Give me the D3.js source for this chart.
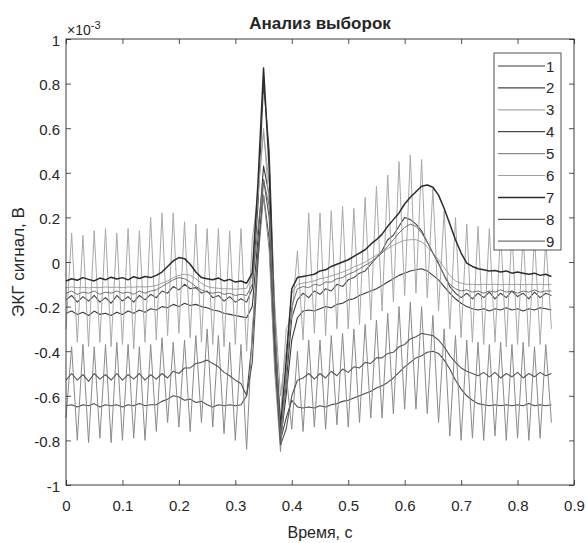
<!DOCTYPE html>
<html>
<head>
<meta charset="utf-8">
<script src="https://cdn.jsdelivr.net/npm/d3@7"></script>
<style>
  body { margin: 0; background: #fff; }
  svg text { font-family: "Liberation Sans", Arial, Helvetica, sans-serif; fill: #262626; }
</style>
</head>
<body>
<svg id="chart" width="587" height="543"></svg>
<script>
// ECG recordings sampled every 10 ms, values in units of 1e-3 V
const SAMPLE_STEP = 0.01;

const seriesLabels = ["1", "2", "3", "4", "5", "6", "7", "8", "9"];

const sig1 = [-0.23,-0.22,-0.235,-0.225,-0.24,-0.22,-0.235,-0.23,-0.24,-0.225,
  -0.235,-0.22,-0.23,-0.215,-0.225,-0.21,-0.215,-0.2,-0.205,-0.19,
  -0.2,-0.185,-0.195,-0.19,-0.2,-0.205,-0.215,-0.22,-0.23,-0.235,
  -0.24,-0.245,-0.25,-0.2,0.1,0.43,0.3,-0.3,-0.8,-0.6,
  -0.35,-0.25,-0.22,-0.215,-0.22,-0.21,-0.2,-0.205,-0.19,-0.185,
  -0.17,-0.165,-0.15,-0.14,-0.13,-0.12,-0.105,-0.09,-0.075,-0.06,
  -0.05,-0.04,-0.035,-0.03,-0.04,-0.06,-0.08,-0.11,-0.14,-0.165,
  -0.185,-0.2,-0.21,-0.215,-0.21,-0.22,-0.21,-0.215,-0.205,-0.215,
  -0.21,-0.22,-0.21,-0.215,-0.205,-0.21,-0.215];

const sig2 = [-0.17,-0.15,-0.18,-0.155,-0.175,-0.15,-0.18,-0.16,-0.185,-0.15,
  -0.175,-0.155,-0.18,-0.15,-0.17,-0.145,-0.16,-0.13,-0.14,-0.11,
  -0.125,-0.1,-0.12,-0.115,-0.14,-0.13,-0.16,-0.15,-0.175,-0.155,
  -0.18,-0.165,-0.18,-0.12,0.25,0.8,0.5,-0.25,-0.78,-0.55,
  -0.25,-0.17,-0.14,-0.16,-0.13,-0.145,-0.12,-0.13,-0.1,-0.11,
  -0.08,-0.07,-0.05,-0.04,-0.01,0.02,0.05,0.1,0.12,0.16,
  0.2,0.19,0.17,0.14,0.09,0.04,-0.005,-0.06,-0.11,-0.14,
  -0.16,-0.14,-0.165,-0.14,-0.16,-0.135,-0.165,-0.14,-0.16,-0.13,
  -0.155,-0.14,-0.165,-0.135,-0.16,-0.14,-0.15];

const sig3 = [-0.3,0.13,-0.36,0.12,-0.38,0.14,-0.36,0.15,-0.38,0.13,
  -0.37,0.15,-0.39,0.14,-0.36,0.2,-0.35,0.22,-0.33,0.22,
  -0.32,0.18,-0.34,0.17,-0.36,0.15,-0.37,0.15,-0.38,0.14,
  -0.37,0.15,-0.4,0.1,0.3,0.6,0.25,-0.3,-0.7,-0.3,
  -0.25,0.05,-0.35,0.22,-0.32,0.22,-0.33,0.23,-0.3,0.25,
  -0.3,0.24,-0.28,0.29,-0.26,0.34,-0.22,0.39,-0.18,0.45,
  -0.15,0.48,-0.14,0.46,-0.16,0.33,-0.22,0.23,-0.3,0.2,
  -0.34,0.17,-0.36,0.16,-0.37,0.15,-0.36,0.14,-0.38,0.14,
  -0.37,0.13,-0.38,0.12,-0.37,0.1,-0.3];

const sig4 = [-0.645,-0.64,-0.65,-0.64,-0.645,-0.635,-0.65,-0.64,-0.645,-0.64,
  -0.65,-0.64,-0.645,-0.635,-0.645,-0.64,-0.64,-0.625,-0.615,-0.6,
  -0.605,-0.62,-0.615,-0.63,-0.625,-0.64,-0.65,-0.64,-0.645,-0.64,
  -0.645,-0.64,-0.6,-0.35,0.05,0.3,0.1,-0.45,-0.8,-0.7,
  -0.62,-0.65,-0.655,-0.65,-0.655,-0.645,-0.65,-0.64,-0.635,-0.625,
  -0.62,-0.61,-0.6,-0.59,-0.58,-0.565,-0.555,-0.54,-0.52,-0.495,
  -0.47,-0.45,-0.43,-0.42,-0.405,-0.4,-0.41,-0.44,-0.48,-0.53,
  -0.57,-0.6,-0.62,-0.635,-0.64,-0.645,-0.64,-0.645,-0.64,-0.645,
  -0.64,-0.645,-0.635,-0.645,-0.64,-0.645,-0.64];

const sig5 = [-0.7,-0.38,-0.8,-0.37,-0.81,-0.38,-0.79,-0.37,-0.81,-0.36,
  -0.8,-0.37,-0.79,-0.38,-0.8,-0.37,-0.76,-0.34,-0.72,-0.36,
  -0.74,-0.35,-0.76,-0.33,-0.72,-0.3,-0.74,-0.33,-0.77,-0.36,
  -0.8,-0.37,-0.84,-0.3,0.0,0.3,0.05,-0.5,-0.85,-0.5,
  -0.75,-0.4,-0.76,-0.35,-0.74,-0.35,-0.75,-0.33,-0.73,-0.32,
  -0.74,-0.3,-0.72,-0.28,-0.7,-0.26,-0.7,-0.23,-0.68,-0.2,
  -0.66,-0.18,-0.66,-0.2,-0.68,-0.24,-0.72,-0.3,-0.78,-0.33,
  -0.8,-0.35,-0.79,-0.36,-0.8,-0.37,-0.78,-0.36,-0.8,-0.37,
  -0.79,-0.36,-0.8,-0.38,-0.79,-0.37,-0.72];

const sig6 = [-0.115,-0.112,-0.115,-0.113,-0.116,-0.114,-0.115,-0.112,-0.114,-0.113,
  -0.115,-0.112,-0.113,-0.111,-0.112,-0.11,-0.105,-0.095,-0.085,-0.07,
  -0.06,-0.055,-0.06,-0.075,-0.095,-0.11,-0.115,-0.118,-0.12,-0.12,
  -0.122,-0.12,-0.118,-0.06,0.3,0.58,0.35,-0.2,-0.6,-0.4,
  -0.14,-0.1,-0.095,-0.09,-0.085,-0.075,-0.07,-0.062,-0.055,-0.045,
  -0.035,-0.022,-0.012,0.0,0.015,0.03,0.045,0.06,0.075,0.088,
  0.097,0.1,0.1,0.09,0.068,0.04,0.01,-0.025,-0.06,-0.085,
  -0.095,-0.1,-0.1,-0.102,-0.1,-0.101,-0.1,-0.102,-0.1,-0.101,
  -0.1,-0.102,-0.1,-0.101,-0.1,-0.102,-0.1];

const sig7 = [-0.085,-0.075,-0.082,-0.07,-0.078,-0.085,-0.072,-0.08,-0.068,-0.076,
  -0.07,-0.08,-0.066,-0.074,-0.065,-0.07,-0.06,-0.045,-0.02,0.005,
  0.02,0.015,-0.01,-0.045,-0.07,-0.075,-0.08,-0.072,-0.085,-0.078,
  -0.09,-0.085,-0.095,-0.05,0.35,0.87,0.42,-0.35,-0.74,-0.45,
  -0.12,-0.07,-0.065,-0.06,-0.055,-0.04,-0.035,-0.02,-0.01,0.0,
  0.01,0.025,0.04,0.055,0.08,0.1,0.125,0.16,0.19,0.22,
  0.26,0.29,0.315,0.34,0.345,0.335,0.3,0.24,0.17,0.1,
  0.04,-0.005,-0.02,-0.03,-0.035,-0.04,-0.038,-0.045,-0.04,-0.05,
  -0.045,-0.05,-0.055,-0.05,-0.06,-0.055,-0.065];

const sig8 = [-0.53,-0.5,-0.53,-0.505,-0.535,-0.5,-0.525,-0.505,-0.53,-0.5,
  -0.53,-0.505,-0.525,-0.5,-0.53,-0.505,-0.525,-0.5,-0.52,-0.49,
  -0.5,-0.475,-0.475,-0.455,-0.45,-0.44,-0.455,-0.47,-0.495,-0.51,
  -0.53,-0.545,-0.6,-0.45,0.0,0.37,0.2,-0.4,-0.82,-0.75,
  -0.6,-0.53,-0.52,-0.5,-0.525,-0.5,-0.52,-0.49,-0.51,-0.48,
  -0.495,-0.47,-0.475,-0.45,-0.455,-0.43,-0.43,-0.41,-0.405,-0.38,
  -0.37,-0.345,-0.335,-0.32,-0.325,-0.33,-0.35,-0.38,-0.42,-0.45,
  -0.475,-0.49,-0.5,-0.51,-0.495,-0.515,-0.495,-0.52,-0.5,-0.515,
  -0.495,-0.52,-0.5,-0.515,-0.495,-0.51,-0.5];

const sig9 = [-0.14,-0.13,-0.145,-0.135,-0.14,-0.13,-0.145,-0.135,-0.14,-0.13,
  -0.14,-0.135,-0.145,-0.13,-0.14,-0.13,-0.125,-0.11,-0.095,-0.08,
  -0.07,-0.075,-0.09,-0.11,-0.125,-0.135,-0.14,-0.135,-0.145,-0.14,
  -0.15,-0.145,-0.15,-0.1,0.15,0.37,0.25,-0.3,-0.78,-0.5,
  -0.2,-0.12,-0.11,-0.115,-0.1,-0.105,-0.09,-0.09,-0.075,-0.07,
  -0.055,-0.045,-0.03,-0.015,0.0,0.02,0.04,0.07,0.1,0.13,
  0.155,0.17,0.16,0.13,0.09,0.04,-0.01,-0.06,-0.1,-0.12,
  -0.13,-0.125,-0.135,-0.13,-0.14,-0.13,-0.135,-0.125,-0.135,-0.13,
  -0.14,-0.13,-0.135,-0.125,-0.135,-0.13,-0.13];

const signals = [sig1, sig2, sig3, sig4, sig5, sig6, sig7, sig8, sig9];

const xTicks = [0, 0.1, 0.2, 0.3, 0.4, 0.5, 0.6, 0.7, 0.8, 0.9];
const yTicks = [-1, -0.8, -0.6, -0.4, -0.2, 0, 0.2, 0.4, 0.6, 0.8, 1];

const lineColors = ["#3a3a3a", "#444444", "#a8a8a8", "#4a4a4a", "#8a8a8a",
                    "#9e9e9e", "#2c2c2c", "#555555", "#717171"];
const lineWidths = [1.1, 1.1, 1.0, 1.1, 1.0, 1.0, 1.5, 1.1, 1.0];

// ---- layout ----
const svg = d3.select("#chart");
const plot = { left: 66, right: 574, top: 39, bottom: 485 };

const x = d3.scaleLinear().domain([0, 0.9]).range([plot.left, plot.right]);
const y = d3.scaleLinear().domain([-1, 1]).range([plot.bottom, plot.top]);

// ---- traces ----
const line = d3.line()
  .x((d, i) => x(i * SAMPLE_STEP))
  .y(d => y(d));

svg.append("g")
  .selectAll("path")
  .data(signals)
  .join("path")
  .attr("d", d => line(d))
  .attr("fill", "none")
  .attr("stroke", (d, i) => lineColors[i])
  .attr("stroke-width", (d, i) => lineWidths[i])
  .attr("stroke-linejoin", "round");

// ---- axes (box with inward ticks, plain hyphen minus in labels) ----
const fmt = d => String(+d.toFixed(1));
const tickLen = 5;

const xBottom = svg.append("g")
  .attr("transform", `translate(0,${plot.bottom})`)
  .call(d3.axisBottom(x).tickValues(xTicks).tickSizeInner(-tickLen).tickSizeOuter(0)
        .tickPadding(15).tickFormat(fmt));
const xTop = svg.append("g")
  .attr("transform", `translate(0,${plot.top})`)
  .call(d3.axisTop(x).tickValues(xTicks).tickSizeInner(-tickLen).tickSizeOuter(0)
        .tickFormat(""));
const yLeft = svg.append("g")
  .attr("transform", `translate(${plot.left},0)`)
  .call(d3.axisLeft(y).tickValues(yTicks).tickSizeInner(-tickLen).tickSizeOuter(0)
        .tickPadding(6).tickFormat(fmt));
const yRight = svg.append("g")
  .attr("transform", `translate(${plot.right},0)`)
  .call(d3.axisRight(y).tickValues(yTicks).tickSizeInner(-tickLen).tickSizeOuter(0)
        .tickFormat(""));

[xBottom, xTop, yLeft, yRight].forEach(g => {
  g.select(".domain").remove();
  g.selectAll(".tick line").attr("stroke", "#262626").attr("stroke-width", 0.8);
  g.selectAll(".tick text")
    .attr("font-family", null)
    .attr("fill", "#262626")
    .style("font-size", "15px");
});
yLeft.selectAll(".tick text").attr("dy", "0.42em");

svg.append("rect")
  .attr("x", plot.left).attr("y", plot.top)
  .attr("width", plot.right - plot.left).attr("height", plot.bottom - plot.top)
  .attr("fill", "none").attr("stroke", "#262626").attr("stroke-width", 0.9);

// exponent marker above the y axis
const expo = svg.append("text").attr("x", 67).attr("y", 35).style("font-size", "14px");
expo.append("tspan").text("×10");
expo.append("tspan").attr("dy", -6).style("font-size", "11px").text("-3");

// ---- titles ----
svg.append("text")
  .attr("x", (plot.left + plot.right) / 2).attr("y", 29)
  .attr("text-anchor", "middle")
  .style("font-size", "17px").style("font-weight", "bold")
  .text("Анализ выборок");

svg.append("text")
  .attr("x", (plot.left + plot.right) / 2).attr("y", 538)
  .attr("text-anchor", "middle")
  .style("font-size", "16px")
  .text("Время, с");

svg.append("text")
  .attr("transform", `translate(24,${(plot.top + plot.bottom) / 2}) rotate(-90)`)
  .attr("text-anchor", "middle")
  .style("font-size", "17px")
  .text("ЭКГ сигнал, В");

// ---- legend ----
const legend = svg.append("g");
legend.append("rect")
  .attr("x", 494).attr("y", 53).attr("width", 67).attr("height", 197)
  .attr("fill", "#fff").attr("stroke", "#262626").attr("stroke-width", 0.8);

const entry = legend.selectAll("g.entry")
  .data(seriesLabels)
  .join("g")
  .attr("class", "entry")
  .attr("transform", (d, i) => `translate(0,${66 + i * 21.9})`);
entry.append("line")
  .attr("x1", 498).attr("x2", 545)
  .attr("stroke", (d, i) => lineColors[i])
  .attr("stroke-width", (d, i) => Math.max(lineWidths[i], 1.2));
entry.append("text")
  .attr("x", 546).attr("y", 5.5)
  .style("font-size", "15px")
  .text(d => d);
</script>
</body>
</html>
